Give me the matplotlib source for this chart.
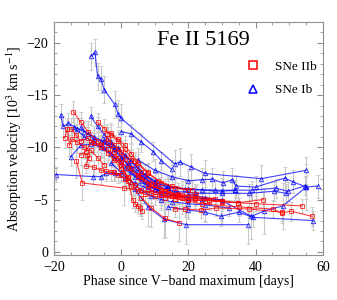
import matplotlib
matplotlib.use("Agg")
import matplotlib.pyplot as plt
from matplotlib.lines import Line2D
from matplotlib.ticker import MultipleLocator

plt.rcParams['font.family'] = 'serif'
plt.rcParams['font.serif'] = ['Liberation Serif', 'DejaVu Serif']
plt.rcParams['mathtext.fontset'] = 'stix'

# SNe IIb curves: phase [days], velocity [10^3 km/s]
iib_phase = [
	[-14.2, -12, -9.8, -7, -4, -1, 2, 5, 8, 12],
	[-7, -5, -3, -1, 1, 4, 8, 12, 16, 20],
	[-16.8, -16, -15.4, -14.5, -13, -11, -9, -7, -5],
	[-13.3, -11.6, 0.8, 12, 18],
	[-4, -2, 0, 2, 3.4, 4.1, 4.9, 5.5, 6.2],
	[-10.1, -9.6, -10.6, -8.1, -6.1, -4.5, -2, 0],
	[-12, -10.5, -9, -6, -4, -2, 0, 3, 6, 10, 14, 18, 22, 26, 30, 34.8],
	[8, 12, 16, 20, 26, 34.8, 42.2],
	[12, 16, 24, 35, 45.1, 47.8, 50.4, 56.8],
	[15.9, 18.9, 23.7, 28.3, 38, 47.8],
	[5, 9, 13, 17, 22, 30, 40, 53.9],
	[-4.2, -3.1, -1, 1, 3, 5, 8, 11, 15, 21.1],
	[-3, -1, 1, 3, 5, 7, 10, 13, 16, 20, 25, 30],
	[-2, 0, 2, 4, 6, 9, 12, 15, 22.4],
	[6, 9, 13, 17.2],
	[-15, -13.5, -12, -10, -8, -6, -4, -2, 0, 2, 4],
	[-1, 1, 3, 6, 9, 13, 17, 22, 28],
]
iib_vel = [
	[-13.4, -12.4, -11.5, -10.6, -9.8, -9.0, -8.0, -7.2, -6.5, -5.9],
	[-12.4, -11.8, -11.2, -10.6, -9.8, -8.7, -7.5, -6.6, -6.1, -5.9],
	[-10.9, -11.8, -10.2, -10.8, -10.5, -10.0, -9.7, -9.0, -8.3],
	[-8.7, -6.6, -6.1, -5.6, -5.2],
	[-10.4, -9.6, -8.6, -6.8, -5.0, -4.6, -4.4, -4.2, -3.9],
	[-9.3, -9.0, -8.2, -8.1, -7.8, -7.7, -7.6, -7.4],
	[-9.3, -9.6, -10.5, -10.2, -10.9, -10.2, -9.6, -8.8, -7.6, -6.5, -5.8, -5.4, -5.2, -5.0, -4.9, -4.7],
	[-6.0, -5.6, -5.3, -5.0, -4.9, -4.7, -5.0],
	[-5.4, -5.1, -4.6, -4.3, -4.1, -3.7, -3.9, -3.4],
	[-4.1, -4.1, -4.0, -4.2, -4.1, -3.8],
	[-7.4, -6.5, -5.8, -5.4, -5.1, -4.8, -4.6, -4.4],
	[-11.3, -11.4, -10.8, -10.2, -9.4, -8.5, -7.6, -6.8, -6.3, -5.9],
	[-7.6, -7.4, -7.0, -6.3, -5.8, -5.5, -5.3, -5.2, -5.1, -5.0, -4.9, -4.9],
	[-9.0, -8.3, -7.2, -6.4, -5.9, -5.6, -5.4, -5.3, -5.5],
	[-5.2, -4.2, -3.2, -2.8],
	[-11.8, -11.2, -10.6, -10.9, -10.4, -10.0, -9.5, -8.8, -7.9, -7.1, -6.4],
	[-9.8, -8.9, -8.0, -7.0, -6.3, -5.8, -5.5, -5.3, -5.1],
]
iib_err = [1.0, 0.9, 1.0, 1.6, 0.8, 0.7, 1.0, 0.8, 0.9, 0.8, 0.7, 0.9, 0.8, 0.9, 1.8, 1.0, 0.8]

# SNe Ib curves
ib_phase = [
	[-9.1, -7.8, -7, -6, -5, -1.9, -0.9, -0.1, 16, 17.4, 20.9, 24.9, 41.7, 54.9],
	[-18, -17.2, -15.7, -13, -11, -8, -5, -2, 0, 3, 6, 10, 13, 17],
	[-9.1, -7, -5, -3, -1, 1, 4, 7, 10, 14],
	[-15, -12, -9, -6, -3, 0, 3, 6, 10, 14, 20, 30],
	[-19.5, -8.3, -6.1, -4.6, -1.7, 1, 4, 8, 12],
	[0.1, 2.9, 6, 9.5, 12, 15],
	[5, 10, 15, 20, 24, 27.1, 30.3, 33.1, 34.1, 40, 48.6, 51.1, 55.1, 58.5],
	[2, 6, 10, 14, 20, 28, 34, 39, 46, 49.5, 54.6],
	[3, 7, 11, 16, 22, 30, 38, 45.5, 49.1],
	[-3, 0, 3, 6, 9, 12, 15, 20, 25, 32],
	[4, 8, 12.8, 19.4, 37.7],
	[14, 20, 25, 29.6, 35, 39.2, 57],
	[20, 25, 30, 38.7, 42.4, 48.1, 55.1],
	[-12, -10, -8, -6, -4, -2, 0, 2, 5, 8, 11],
	[-14, -11, -8, -5, -2, 1, 4, 7, 10, 13, 16, 20, 24],
	[-5, -3, -1, 1, 3, 5, 7, 10, 14, 19, 24, 30, 34],
]
ib_vel = [
	[-18.7, -19.1, -16.8, -16.5, -15.5, -14.1, -13.2, -12.8, -8.4, -8.6, -8.1, -7.5, -7.0, -7.8],
	[-13.1, -12.0, -12.3, -11.8, -11.5, -11.0, -10.5, -9.8, -9.0, -8.0, -7.2, -6.5, -6.0, -5.6],
	[-13.0, -12.0, -11.2, -10.5, -9.9, -9.2, -8.3, -7.4, -6.7, -6.1],
	[-9.1, -10.2, -10.3, -10.0, -9.4, -8.6, -7.6, -6.8, -6.0, -5.5, -5.2, -5.0],
	[-7.4, -7.2, -7.2, -7.5, -7.5, -7.1, -6.6, -6.0, -5.5],
	[-11.5, -11.3, -10.5, -9.6, -8.7, -7.9],
	[-8.8, -7.8, -7.2, -6.8, -6.9, -6.95, -6.6, -6.9, -6.3, -6.2, -7.05, -6.7, -6.2, -6.3],
	[-8.5, -7.5, -6.6, -6.2, -6.0, -5.9, -5.9, -5.9, -6.1, -5.8, -6.3],
	[-8.0, -7.0, -6.2, -5.8, -5.6, -5.6, -5.6, -5.8, -5.6],
	[-8.5, -7.6, -6.7, -5.9, -5.3, -5.0, -4.8, -4.6, -4.5, -4.2],
	[-6.0, -4.3, -3.1, -2.6, -2.6],
	[-4.3, -4.0, -3.8, -3.4, -3.8, -3.3, -3.0],
	[-5.5, -5.2, -4.9, -3.4, -3.9, -4.4, -6.2],
	[-11.9, -11.3, -10.8, -10.6, -10.2, -9.8, -9.1, -8.3, -7.3, -6.5, -5.9],
	[-11.9, -11.0, -10.5, -9.9, -9.0, -8.0, -7.2, -6.5, -6.0, -5.6, -5.4, -5.2, -5.1],
	[-10.7, -10.3, -9.9, -9.3, -8.7, -8.0, -7.4, -6.8, -6.3, -6.0, -5.9, -5.8, -5.9],
]
ib_err = [1.3, 1.0, 0.9, 0.9, 0.7, 0.9, 1.1, 0.9, 0.9, 0.8, 1.8, 0.9, 2.2, 0.9, 0.9, 1.0]

fig = plt.figure(figsize=(3.37, 3.0), dpi=100)
ax = fig.add_axes([0.160, 0.150, 0.798, 0.777])

def draw(phases, vels, errs, color, marker):
	for x, y, e in zip(phases, vels, errs):
		ax.errorbar(x, y, yerr=e, fmt='none', ecolor='#c8c8c8', elinewidth=0.8,
					capsize=1.5, capthick=0.6, zorder=1)
		ax.plot(x, y, '-', color=color, lw=0.8, alpha=0.75,
				marker=marker, ms=3.2, mfc='none', mec=color, mew=0.7, zorder=2)

draw(ib_phase, ib_vel, ib_err, '#0000ff', '^')
draw(iib_phase, iib_vel, iib_err, '#ff0000', 's')

ax.set_xlim(-20, 60)
ax.set_ylim(0.3, -22)
ax.xaxis.set_major_locator(MultipleLocator(20))
ax.xaxis.set_minor_locator(MultipleLocator(5))
ax.yaxis.set_major_locator(MultipleLocator(5))
ax.yaxis.set_minor_locator(MultipleLocator(1))
ax.tick_params(which='both', direction='in', top=True, right=True, color='#909090', labelsize=10, pad=4)
ax.tick_params(which='major', length=4)
ax.tick_params(which='minor', length=2)
for s in ax.spines.values():
	s.set_color('#909090')
	s.set_linewidth(0.8)

ax.set_xlabel('Phase since V\u2212band maximum [days]', fontsize=10, labelpad=1)
ax.set_ylabel('Absorption velocity [10$^3$ km s$^{-1}$]', fontsize=10, labelpad=2)
ax.text(0.554, 0.92, 'Fe II 5169', transform=ax.transAxes, fontsize=16, ha='center', va='center')

handles = [
	Line2D([], [], ls='none', marker='s', ms=5.5, mfc='none', mec='#ff0000', mew=1.1, label='SNe IIb'),
	Line2D([], [], ls='none', marker='^', ms=5.5, mfc='none', mec='#0000ff', mew=1.1, label='SNe Ib'),
]
ax.legend(handles=handles, loc='upper right', bbox_to_anchor=(1.02, 0.885), frameon=False,
		  fontsize=9.5, handlelength=1.0, handletextpad=1.1, labelspacing=0.85)

fig.savefig('out.png', dpi=100)
